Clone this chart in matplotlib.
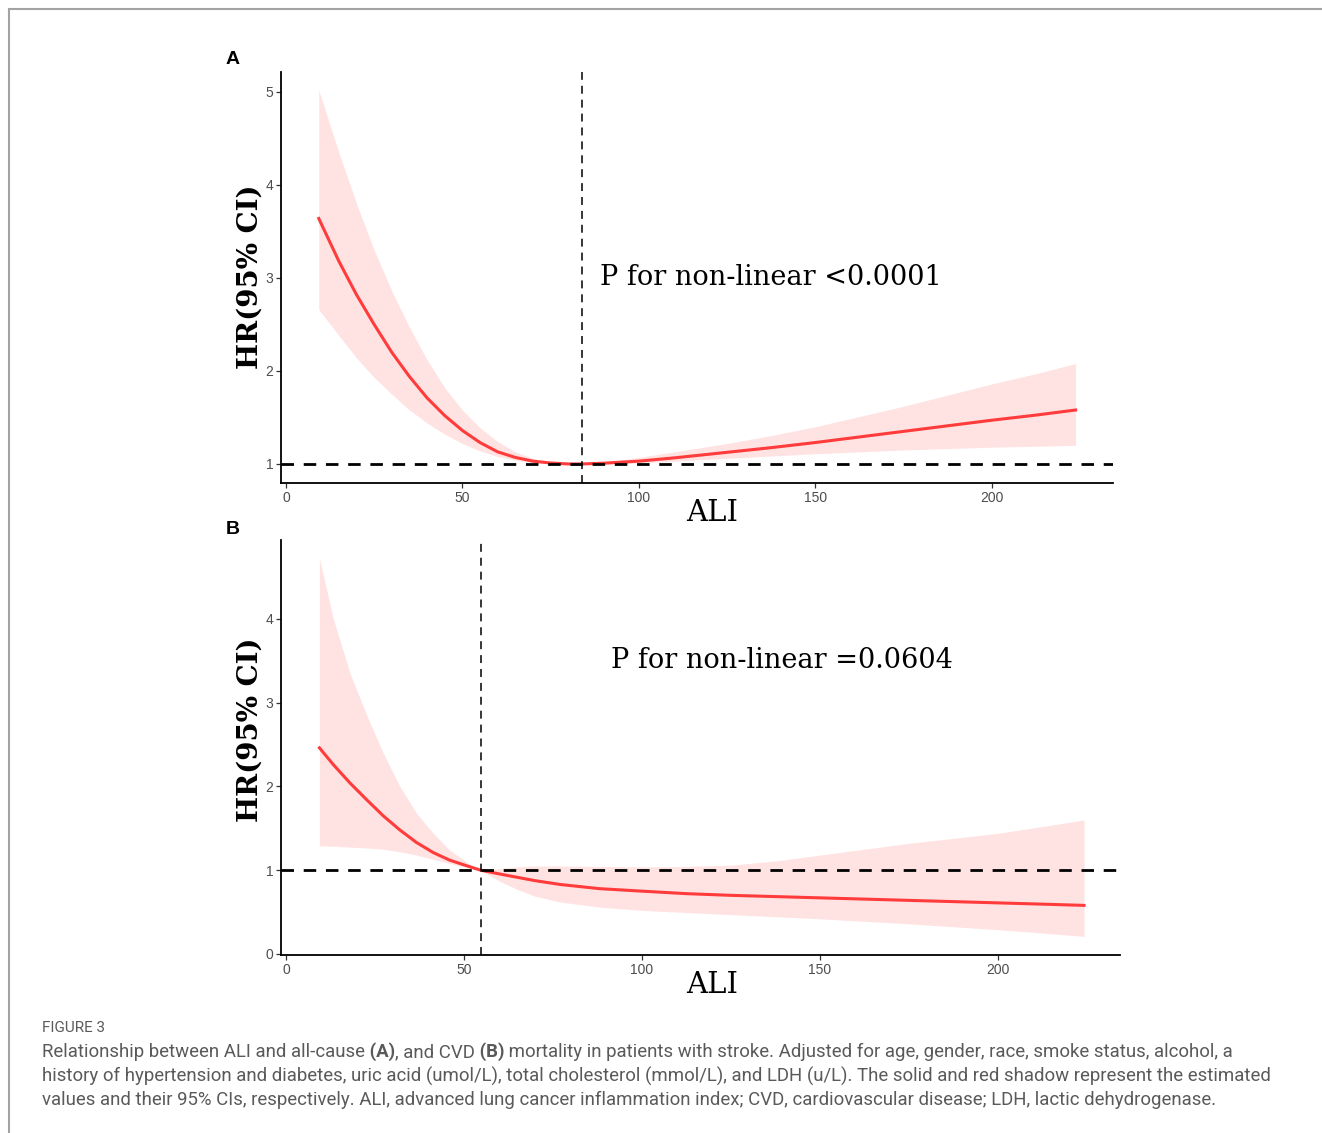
import numpy as np
import matplotlib
matplotlib.use('Agg')
import matplotlib.pyplot as plt
from matplotlib.lines import Line2D

W, H = 1322, 1133

# panel A: all-cause mortality
ali_a = [9.3, 15, 20, 25, 30, 35, 40, 45, 50, 55, 60, 65, 70, 75, 80, 84,
         90, 100, 110, 125, 137.5, 150, 162.5, 175, 187.5, 200, 212.5, 223.8]
hr_a = [3.64, 3.18, 2.82, 2.50, 2.20, 1.94, 1.71, 1.52, 1.36, 1.23, 1.13, 1.07,
        1.03, 1.01, 1.0, 1.0, 1.008, 1.03, 1.065, 1.125, 1.175, 1.23, 1.29,
        1.35, 1.41, 1.47, 1.525, 1.58]
lo_a = [2.66, 2.38, 2.14, 1.93, 1.75, 1.58, 1.44, 1.32, 1.22, 1.14, 1.08, 1.04,
        1.015, 1.005, 1.0, 1.0, 1.0, 1.01, 1.03, 1.06, 1.085, 1.11, 1.13,
        1.15, 1.165, 1.18, 1.19, 1.20]
hi_a = [5.02, 4.35, 3.80, 3.30, 2.86, 2.47, 2.12, 1.82, 1.58, 1.39, 1.24, 1.13,
        1.06, 1.02, 1.005, 1.0, 1.02, 1.07, 1.13, 1.22, 1.305, 1.40, 1.51,
        1.62, 1.74, 1.86, 1.97, 2.08]
knot_a = 84
ptext_a = 'P for non-linear <0.0001'

# panel B: CVD mortality
ali_b = [9.4, 13.3, 18, 22.7, 27.3, 32, 36.7, 41.4, 46, 51, 54.7, 60, 65, 70,
         77, 88, 100, 112.5, 125, 137.5, 150, 162.5, 175, 187.5, 200, 212.5, 224.3]
hr_b = [2.46, 2.26, 2.04, 1.84, 1.65, 1.48, 1.33, 1.21, 1.12, 1.05, 1.0, 0.955,
        0.915, 0.875, 0.83, 0.78, 0.75, 0.72, 0.70, 0.685, 0.67, 0.655, 0.64,
        0.625, 0.61, 0.595, 0.58]
lo_b = [1.29, 1.285, 1.275, 1.265, 1.25, 1.22, 1.18, 1.13, 1.08, 1.03, 1.0, 0.87,
        0.77, 0.69, 0.62, 0.56, 0.52, 0.495, 0.47, 0.445, 0.42, 0.39, 0.36,
        0.325, 0.29, 0.25, 0.21]
hi_b = [4.72, 4.0, 3.35, 2.85, 2.40, 2.0, 1.68, 1.44, 1.24, 1.09, 1.0, 1.02,
        1.04, 1.05, 1.05, 1.045, 1.04, 1.045, 1.06, 1.11, 1.18, 1.25, 1.32,
        1.38, 1.44, 1.52, 1.60]
knot_b = 54.7
ptext_b = 'P for non-linear =0.0604'

x_ticks = [0, 50, 100, 150, 200]
y_ticks_a = [1, 2, 3, 4, 5]
y_ticks_b = [0, 1, 2, 3, 4]

RED = '#FF3B3B'
PINK = '#FFE3E3'

fig = plt.figure(figsize=(W / 100, H / 100), dpi=100)

# grey frame, top and left
fig.add_artist(Line2D([9 / W, 1], [1 - 9 / H, 1 - 9 / H], color='#A3A3A3', lw=1.5))
fig.add_artist(Line2D([9 / W, 9 / W], [0, 1 - 9 / H], color='#A3A3A3', lw=1.5))


def panel(rect, x, hr, lo, hi, knot, ylim, yticks, ptext, ppos):
    ax = fig.add_axes(rect)
    ax.fill_between(x, lo, hi, color=PINK, lw=0, zorder=1)
    ax.plot(x, hr, color=RED, lw=2.2, zorder=2, solid_joinstyle='round')
    ax.axhline(1, color='black', lw=2, ls=(0, (4.5, 3.5)), zorder=3)
    ax.axvline(knot, color='black', lw=1.1, ls=(0, (5.2, 3.9)), zorder=3)
    ax.set_xlim(-1.4, 234.4)
    ax.set_ylim(*ylim)
    ax.set_xticks(x_ticks)
    ax.set_yticks(yticks)
    for s in ['top', 'right']:
        ax.spines[s].set_visible(False)
    for s in ['left', 'bottom']:
        ax.spines[s].set_linewidth(1.3)
        ax.spines[s].set_color('black')
    ax.tick_params(direction='out', length=3.5, width=0.9, color='#333333',
                   labelcolor='#4D4D4D', labelsize=10, pad=2)
    for lab in ax.get_xticklabels() + ax.get_yticklabels():
        lab.set_family('Liberation Sans')
    ax.text(ppos[0], ppos[1], ptext, ha='center', va='center',
            family='DejaVu Serif', fontsize=19.5, color='black')
    return ax


panel([281 / W, 1 - 483 / H, 832 / W, 411 / H], ali_a, hr_a, lo_a, hi_a, knot_a,
      (0.795, 5.215), y_ticks_a, ptext_a, (137.5, 3.0))
panel([281 / W, 1 - 955 / H, 839 / W, 415 / H], ali_b, hr_b, lo_b, hi_b, knot_b,
      (-0.012, 4.94), y_ticks_b, ptext_b, (139.3, 3.5))

# axis titles and panel letters
for yl, xl, letter, ly in [(277, 513, 'A', 60), (730, 985, 'B', 529)]:
    fig.text(250 / W, 1 - yl / H, 'HR(95% CI)', rotation=90, ha='center',
             va='center', family='DejaVu Serif', fontweight='bold', fontsize=20)
    fig.text(712 / W, 1 - xl / H, 'ALI', ha='center', va='center',
             family='DejaVu Serif', fontsize=21)
    fig.text(233 / W, 1 - ly / H, letter, ha='center', va='center',
             family='Liberation Sans', fontweight='bold', fontsize=14)

# caption
CAP = '#5A5A5A'
fig.text(42 / W, 1 - 1028 / H, 'FIGURE 3', ha='left', va='center',
         family='Roboto', fontsize=11, color=CAP)

renderer = fig.canvas.get_renderer()


def rich_line(y, parts):
    x = 42 / W
    for s, w in parts:
        t = fig.text(x, 1 - y / H, s, ha='left', va='center', family='Roboto',
                     fontweight=w, fontsize=13.4, color=CAP)
        bb = t.get_window_extent(renderer)
        x = bb.x1 / W


rich_line(1052, [('Relationship between ALI and all-cause', 'normal'),
                 (' (A)', 'bold'), (', and CVD', 'normal'), (' (B)', 'bold'),
                 (' mortality in patients with stroke. Adjusted for age, gender, '
                  'race, smoke status, alcohol, a', 'normal')])
rich_line(1076, [('history of hypertension and diabetes, uric acid (umol/L), total '
                  'cholesterol (mmol/L), and LDH (u/L). The solid and red shadow '
                  'represent the estimated', 'normal')])
rich_line(1100, [('values and their 95% CIs, respectively. ALI, advanced lung cancer '
                  'inflammation index; CVD, cardiovascular disease; LDH, lactic '
                  'dehydrogenase.', 'normal')])

fig.savefig('out.png', dpi=100)
